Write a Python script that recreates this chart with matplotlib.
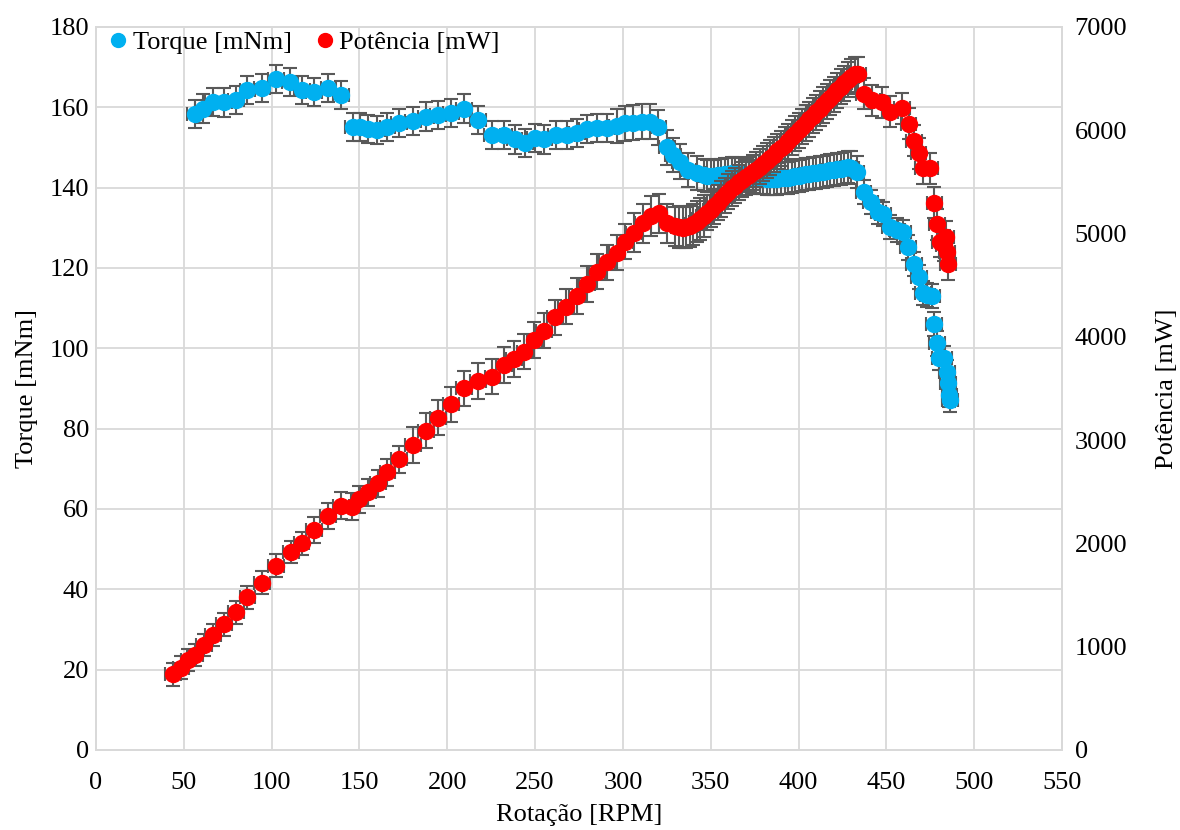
import matplotlib
matplotlib.use("Agg")
import matplotlib.pyplot as plt
from matplotlib.lines import Line2D

plt.rcParams['font.family'] = ['Liberation Serif', 'DejaVu Serif']

# Torque measurements
torque_rpm = [56.4, 61.1, 66.4, 72.9, 79.7, 86.2, 94.3, 102.5, 110.5, 117.1, 124.1, 132.3, 139.3,
              146.1, 150.3, 155.0, 160.2, 165.9, 172.7, 180.3, 187.9, 194.9, 201.9, 209.7, 217.5,
              225.4, 232.3, 238.3, 244.1, 249.8, 255.1, 261.8, 268.0, 273.7, 279.4, 285.1, 290.8,
              296.5, 301.2, 306.0, 310.7, 315.5, 320.2, 324.9, 328.7, 332.6, 337.3, 342.0,
              346, 348, 350, 352, 354, 356, 358, 360, 362, 364, 366, 368, 370, 372, 374, 376,
              378, 380, 382, 384, 386, 388, 390, 392, 394, 396, 398, 400, 402, 404, 406, 408,
              410, 412, 414, 416, 418, 420, 422, 424, 426, 428, 430, 433,
              437.0, 441.0, 445.5, 448.3, 452.1, 456.0, 459.4, 462.2, 465.8, 468.7, 470.7,
              473.4, 475.9, 477.2, 478.7, 480.2, 482.8, 484.3, 485.3, 485.9, 486.3]
torque = [158.3, 159.7, 161.4, 161.2, 161.9, 164.4, 164.8, 167.0, 166.2, 164.3, 163.9, 164.7, 163.0,
          155.2, 155.2, 154.6, 154.3, 155.2, 156.2, 156.6, 157.7, 158.1, 158.5, 159.7, 156.9,
          153.2, 153.2, 152.0, 151.2, 152.3, 152.0, 153.1, 153.1, 153.7, 154.5, 154.9, 154.9,
          155.3, 156.0, 156.2, 156.4, 156.4, 155.0, 150.0, 148.1, 146.5, 144.4, 143.6,
          143.2, 143.0, 142.9, 143.0, 143.1, 143.2, 143.3, 143.5, 143.6, 143.6, 143.5, 143.3,
          143.1, 142.9, 142.7, 142.5, 142.4, 142.3, 142.2, 142.2, 142.2, 142.2, 142.3, 142.4,
          142.5, 142.7, 142.8, 143.0, 143.1, 143.3, 143.4, 143.6, 143.7, 143.9, 144.0, 144.2,
          144.3, 144.5, 144.6, 144.7, 144.9, 145.1, 145.0, 144.0,
          139.0, 136.4, 134.0, 133.5, 130.2, 129.4, 129.0, 125.1, 121.1, 117.8, 113.7,
          113.3, 113.0, 106.0, 101.2, 97.7, 97.5, 94.1, 91.3, 88.4, 87.1]
torque_err = [3.5] * 37 + [4.3] * 11 + [4.0] * 44 + [3.0] * 21

# Power measurements
power_rpm = [44.0, 48.2, 52.6, 56.4, 61.5, 66.8, 72.9, 79.5, 86.2, 94.3, 102.5, 110.8, 117.0,
             124.1, 131.9, 139.3, 146.0, 149.9, 154.7, 160.4, 165.9, 172.6, 180.3, 187.7, 194.9,
             201.9, 209.7, 217.7, 225.7, 232.5, 238.2, 243.9, 249.6, 255.1, 261.4, 267.7, 273.7,
             279.4, 285.1, 290.8, 296.5, 301.2, 306.4, 311.3, 315.9, 320.4, 325.0, 329.7,
             332, 334, 336, 338, 340, 342, 344, 346, 348, 350, 352, 354, 356, 358,
             360, 362, 364, 366, 368, 370, 372, 374, 376, 378, 380, 382, 384, 386,
             388, 390, 392, 394, 396, 398, 400, 402, 404, 406, 408, 410, 412, 414,
             416, 418, 420, 422, 424, 426, 428, 430, 432, 434,
             437.4, 441.7, 447.4, 452.1, 458.8, 462.6, 465.6, 468.3, 470.9, 474.9, 477.4,
             478.7, 480.6, 482.8, 484.0, 484.3, 484.9]
power = [733, 797, 871, 920, 1017, 1113, 1217, 1333, 1478, 1620, 1784, 1917, 2001,
         2130, 2266, 2366, 2356, 2427, 2494, 2582, 2688, 2814, 2953, 3092, 3217,
         3346, 3501, 3572, 3614, 3727, 3785, 3856, 3969, 4059, 4189, 4292, 4395,
         4511, 4630, 4720, 4815, 4921, 5008, 5099, 5170, 5196, 5099, 5070,
         5062, 5058, 5060, 5070, 5090, 5115, 5140, 5170, 5200, 5230, 5265, 5300, 5335, 5370,
         5405, 5440, 5465, 5495, 5520, 5545, 5570, 5595, 5620, 5645, 5675, 5705, 5735, 5765,
         5795, 5825, 5860, 5895, 5930, 5965, 6000, 6035, 6070, 6105, 6140, 6175, 6210, 6245,
         6280, 6315, 6350, 6385, 6420, 6455, 6490, 6520, 6540, 6540,
         6354, 6290, 6273, 6178, 6211, 6061, 5899, 5777, 5632, 5632, 5296,
         5090, 4921, 4889, 4969, 4824, 4705]
power_err = [110] * 13 + [130] * 9 + [170] * 20 + [190] * 6 + [200] * 8 + [170] * 44 + [150] * 17

rpm_err = 4.5
blue = '#00B0F0'
red = '#FF0000'
grid_c = '#D9D9D9'
bar_c = '#595959'
fs = 19

fig, ax = plt.subplots(figsize=(11.8, 8.3), dpi=100)
fig.subplots_adjust(left=0.0814, right=0.9, top=0.9675, bottom=0.0964)
ax2 = ax.twinx()

ax.errorbar(torque_rpm, torque, yerr=torque_err, xerr=rpm_err, fmt='o', color=blue,
            ecolor=bar_c, elinewidth=1.5, capsize=5, capthick=1.5, markersize=11.5, zorder=3)
ax2.errorbar(power_rpm, power, yerr=power_err, xerr=rpm_err, fmt='o', color=red,
             ecolor=bar_c, elinewidth=1.5, capsize=5, capthick=1.5, markersize=11.5, zorder=3)

ax.set_xlim(0, 550)
ax.set_ylim(0, 180)
ax2.set_ylim(0, 7000)
ax.set_xticks(range(0, 551, 50))
ax.set_yticks(range(0, 181, 20))
ax2.set_yticks(range(0, 7001, 1000))
ax.grid(True, color=grid_c, linewidth=1.3)
ax.set_axisbelow(True)
for a in (ax, ax2):
    for s in a.spines.values():
        s.set_color(grid_c)
        s.set_linewidth(1.3)
    a.tick_params(length=0, labelsize=fs, colors='black')
ax.tick_params(axis='y', pad=5)
ax.tick_params(axis='x', pad=16)
ax2.tick_params(axis='y', pad=9)

ax.set_xlabel('Rotação [RPM]', fontsize=fs, labelpad=7)
ax.set_ylabel('Torque [mNm]', fontsize=fs, labelpad=8)
ax2.set_ylabel('Potência [mW]', fontsize=fs, labelpad=21)

handles = [Line2D([], [], marker='o', linestyle='none', color=blue, markersize=10),
           Line2D([], [], marker='o', linestyle='none', color=red, markersize=10)]
ax2.legend(handles, ['Torque [mNm]', 'Potência [mW]'], loc='upper left', ncol=2,
           frameon=False, fontsize=fs, handlelength=0.8, handletextpad=0.15,
           columnspacing=0.85, borderaxespad=0.0, bbox_to_anchor=(0.001, 1.01))

fig.savefig('out.png', dpi=100)
